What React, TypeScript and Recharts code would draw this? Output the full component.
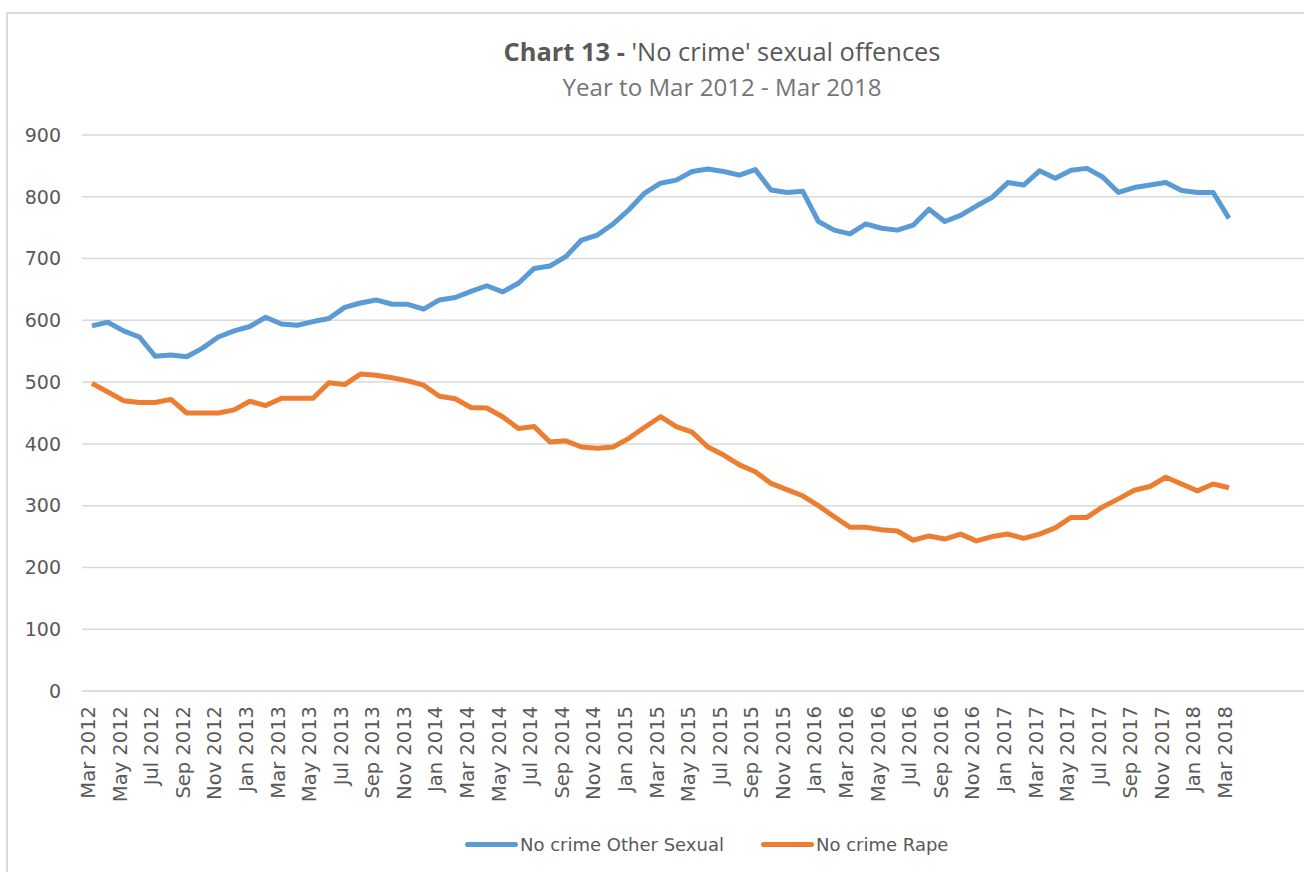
import { LineChart, Line, XAxis, YAxis, CartesianGrid, Legend } from 'recharts';

const months = [
  'Mar 2012', 'Apr 2012', 'May 2012', 'Jun 2012', 'Jul 2012', 'Aug 2012', 'Sep 2012', 'Oct 2012', 'Nov 2012', 'Dec 2012',
  'Jan 2013', 'Feb 2013', 'Mar 2013', 'Apr 2013', 'May 2013', 'Jun 2013', 'Jul 2013', 'Aug 2013', 'Sep 2013', 'Oct 2013', 'Nov 2013', 'Dec 2013',
  'Jan 2014', 'Feb 2014', 'Mar 2014', 'Apr 2014', 'May 2014', 'Jun 2014', 'Jul 2014', 'Aug 2014', 'Sep 2014', 'Oct 2014', 'Nov 2014', 'Dec 2014',
  'Jan 2015', 'Feb 2015', 'Mar 2015', 'Apr 2015', 'May 2015', 'Jun 2015', 'Jul 2015', 'Aug 2015', 'Sep 2015', 'Oct 2015', 'Nov 2015', 'Dec 2015',
  'Jan 2016', 'Feb 2016', 'Mar 2016', 'Apr 2016', 'May 2016', 'Jun 2016', 'Jul 2016', 'Aug 2016', 'Sep 2016', 'Oct 2016', 'Nov 2016', 'Dec 2016',
  'Jan 2017', 'Feb 2017', 'Mar 2017', 'Apr 2017', 'May 2017', 'Jun 2017', 'Jul 2017', 'Aug 2017', 'Sep 2017', 'Oct 2017', 'Nov 2017', 'Dec 2017',
  'Jan 2018', 'Feb 2018', 'Mar 2018',
];

const otherSexual = [
  591, 597, 583, 573, 542, 544, 541, 555, 573, 583,
  590, 605, 594, 592, 598, 603, 621, 628, 633, 626, 626, 618,
  633, 637, 647, 656, 646, 660, 684, 688, 703, 730, 738, 756,
  779, 806, 822, 827, 841, 845, 841, 835, 844, 811, 807, 809,
  760, 746, 740, 756, 749, 746, 754, 780, 760, 770, 785, 799,
  823, 819, 842, 830, 843, 846, 832, 807, 815, 819, 823, 810,
  807, 807, 765,
];

const rape = [
  498, 484, 470, 467, 467, 472, 450, 450, 450, 455,
  469, 462, 474, 474, 474, 499, 496, 513, 511, 507, 502, 495,
  477, 473, 459, 458, 444, 425, 428, 403, 405, 395, 393, 395,
  409, 427, 444, 428, 419, 395, 382, 366, 355, 336, 326, 316,
  300, 282, 265, 265, 261, 259, 244, 251, 246, 254, 243, 250,
  254, 247, 254, 264, 281, 281, 298, 311, 325, 331, 346, 335,
  324, 335, 329,
];

const yTicks = [0, 100, 200, 300, 400, 500, 600, 700, 800, 900];

const seriesNames = ['No crime Other Sexual', 'No crime Rape'];
const seriesColors = ['#5B9BD5', '#ED7D31'];

const data = months.map((m, i) => ({ month: m, other: otherSexual[i], rape: rape[i] }));

const FONT = '"DejaVu Sans", sans-serif';
const TEXT = '#595959';

const MonthTick = ({ x, y, payload }: any) => (
  <g transform={`translate(${x},${y})`}>
    <text transform="rotate(-90)" x={0} y={0} dy={3} textAnchor="end" fill={TEXT} fontSize={19.5} fontFamily={FONT}>
      {payload.value}
    </text>
  </g>
);

const renderLegend = () => (
  <div style={{ height: 40, display: 'flex', alignItems: 'center', paddingLeft: 465, fontFamily: FONT, fontSize: 18, color: TEXT }}>
    {seriesNames.map((name, i) => (
      <div key={name} style={{ display: 'flex', alignItems: 'center', marginRight: 37 }}>
        <span style={{ display: 'inline-block', width: 53, height: 5, borderRadius: 3, background: seriesColors[i] }} />
        <span style={{ marginLeft: 2 }}>{name}</span>
      </div>
    ))}
  </div>
);

export default function App() {
  return (
    <div style={{ position: 'absolute', left: 0, top: 0, width: 1304, height: 872, overflow: 'hidden', background: '#fff' }}>
      <div style={{ position: 'absolute', left: 6, top: 12, width: 1500, height: 1000, border: '2px solid #d9d9d9' }} />
      <svg width={1304} height={120} style={{ position: 'absolute', left: 0, top: 0 }}>
        <text x={722} y={61} textAnchor="middle" fontFamily='"Open Sans", sans-serif' fontSize={25} fill={TEXT}
          textLength={437} lengthAdjust="spacingAndGlyphs">
          <tspan fontWeight="bold">Chart 13 - </tspan>'No crime' sexual offences
        </text>
        <text x={722} y={96} textAnchor="middle" fontFamily='"Open Sans", sans-serif' fontSize={23} fill="#757575"
          textLength={319} lengthAdjust="spacingAndGlyphs">
          Year to Mar 2012 - Mar 2018
        </text>
      </svg>
      <div style={{ position: 'absolute', left: 0, top: 0 }}>
        <LineChart width={1444} height={872} data={data} margin={{ top: 135, right: 24, bottom: 8, left: 0 }}>
          <CartesianGrid vertical={false} stroke="#d9d9d9" strokeWidth={1.5} />
          <XAxis
            dataKey="month"
            interval={1}
            tick={<MonthTick />}
            tickLine={false}
            tickSize={0}
            tickMargin={15}
            height={133}
            padding={{ left: 10, right: 191 }}
            axisLine={{ stroke: '#d9d9d9', strokeWidth: 1.5 }}
          />
          <YAxis
            domain={[0, 900]}
            ticks={yTicks}
            width={82}
            axisLine={false}
            tickLine={false}
            tickSize={0}
            tickMargin={21}
            tick={{ fill: TEXT, fontSize: 19, fontFamily: FONT }}
          />
          <Legend verticalAlign="bottom" content={renderLegend} />
          <Line dataKey="other" name={seriesNames[0]} stroke={seriesColors[0]} strokeWidth={5} dot={false}
            strokeLinejoin="round" isAnimationActive={false} />
          <Line dataKey="rape" name={seriesNames[1]} stroke={seriesColors[1]} strokeWidth={5} dot={false}
            strokeLinejoin="round" isAnimationActive={false} />
        </LineChart>
      </div>
    </div>
  );
}
